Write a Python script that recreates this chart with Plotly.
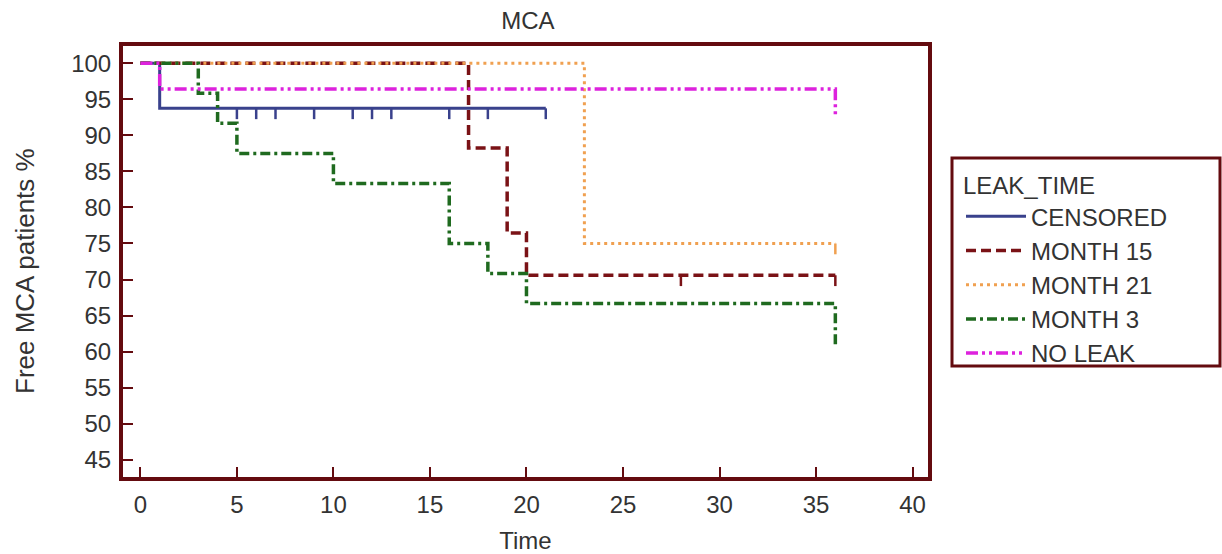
import plotly.graph_objects as go

# Kaplan-Meier step data per leak-time group: event times and survival (%) after each step
groups = ["CENSORED", "MONTH 15", "MONTH 21", "MONTH 3", "NO LEAK"]

censored_t = [0, 1]
censored_s = [100, 93.75]
censored_end = 21
censored_marks = [5, 6, 7, 9, 11, 12, 13, 16, 18, 21]

month15_t = [0, 17, 19, 20]
month15_s = [100, 88.24, 76.47, 70.59]
month15_end = 36
month15_marks = [28, 36]

month21_t = [0, 23]
month21_s = [100, 75.0]
month21_end = 36
month21_marks = [36]

month3_t = [0, 3, 4, 5, 10, 16, 18, 20, 36]
month3_s = [100, 95.83, 91.67, 87.5, 83.33, 75.0, 70.83, 66.67, 60.6]
month3_end = 36
month3_marks = []

noleak_t = [0, 1, 36]
noleak_s = [100, 96.43, 92.5]
noleak_end = 36
noleak_marks = []

x_ticks = [0, 5, 10, 15, 20, 25, 30, 35, 40]
y_ticks = [45, 50, 55, 60, 65, 70, 75, 80, 85, 90, 95, 100]

FRAME = "#640b0f"
FONT = "Liberation Sans, Arial, sans-serif"
TEXT = "#333333"

styles = {
    "CENSORED": dict(color="#39418c", dash="solid", width=3),
    "MONTH 15": dict(color="#7a1216", dash="10px,5px", width=3.5),
    "MONTH 21": dict(color="#f0a050", dash="3px,4px", width=3),
    "MONTH 3": dict(color="#1f6a1f", dash="10px,4px,3px,4px", width=3.5),
    "NO LEAK": dict(color="#dd22dd", dash="12px,4px,3px,4px,3px,4px", width=3.5),
}

series = {
    "CENSORED": (censored_t, censored_s, censored_end, censored_marks),
    "MONTH 15": (month15_t, month15_s, month15_end, month15_marks),
    "MONTH 21": (month21_t, month21_s, month21_end, month21_marks),
    "MONTH 3": (month3_t, month3_s, month3_end, month3_marks),
    "NO LEAK": (noleak_t, noleak_s, noleak_end, noleak_marks),
}

MARK_LEN = 1.5  # censor tick length in survival units


def surv_at(t_list, s_list, t):
    val = s_list[0]
    for ti, si in zip(t_list, s_list):
        if ti <= t:
            val = si
    return val


fig = go.Figure()
for name in groups:
    t, s, end, marks = series[name]
    st = styles[name]
    xs = list(t)
    ys = list(s)
    if xs[-1] < end:
        xs.append(end)
        ys.append(ys[-1])
    fig.add_trace(go.Scatter(
        x=xs, y=ys, mode="lines", name=name, legendgroup=name,
        line=dict(color=st["color"], dash=st["dash"], width=st["width"], shape="hv"),
        hoverinfo="skip",
    ))
    if marks:
        mx, my = [], []
        for m in marks:
            v = surv_at(t, s, m)
            mx += [m, m, None]
            my += [v, v - MARK_LEN, None]
        fig.add_trace(go.Scatter(
            x=mx, y=my, mode="lines", legendgroup=name, showlegend=False,
            line=dict(color=st["color"], width=2.5), hoverinfo="skip",
        ))

axis_common = dict(
    showline=True, linecolor=FRAME, linewidth=4, mirror=True,
    ticks="inside", ticklen=10, tickwidth=2, tickcolor=FRAME,
    showgrid=False, zeroline=False, ticklabelstandoff=3, automargin=False,
    tickfont=dict(family=FONT, size=24, color=TEXT),
)

# plot area in pixels
L, R, T, B = 123, 928, 46, 477
pw, ph = R - L, B - T
# legend frame drawn as a paper-referenced rectangle
box = dict(x0=(952 - L) / pw, x1=(1220 - L) / pw, y0=(B - 366) / ph, y1=(B - 158) / ph)

fig.update_layout(
    width=1222, height=554,
    margin=dict(l=L, r=1222 - R, t=T, b=554 - B),
    paper_bgcolor="white", plot_bgcolor="white",
    font=dict(family=FONT, color=TEXT),
    title=dict(text="MCA", x=0.503, xref="paper", y=1 - 21 / 554, yref="container",
               xanchor="center", yanchor="middle", font=dict(family=FONT, size=24, color=TEXT)),
    xaxis=dict(range=[-0.9, 40.8], tickvals=x_ticks,
               title=dict(text="Time", font=dict(family=FONT, size=24, color=TEXT), standoff=17),
               **axis_common),
    yaxis=dict(range=[42.6, 102.4], tickvals=y_ticks, **axis_common),
    annotations=[dict(text="Free MCA patients %", textangle=-90, xref="paper", yref="paper",
                      x=(25 - L) / pw, y=(B - 271) / ph, xanchor="center", yanchor="middle",
                      showarrow=False, font=dict(family=FONT, size=26, color=TEXT))],
    legend=dict(
        x=(961 - L) / pw, y=(B - 163) / ph, xanchor="left", yanchor="top",
        borderwidth=0, bgcolor="rgba(0,0,0,0)",
        font=dict(family=FONT, size=24, color=TEXT),
        title=dict(text="LEAK_TIME", font=dict(family=FONT, size=24, color=TEXT)),
        tracegroupgap=0, itemwidth=60, traceorder="grouped",
    ),
    shapes=[dict(type="rect", xref="paper", yref="paper", **box,
                 line=dict(color=FRAME, width=3), fillcolor="rgba(0,0,0,0)", layer="below")],
    showlegend=True,
)

fig.write_html("out.html")
